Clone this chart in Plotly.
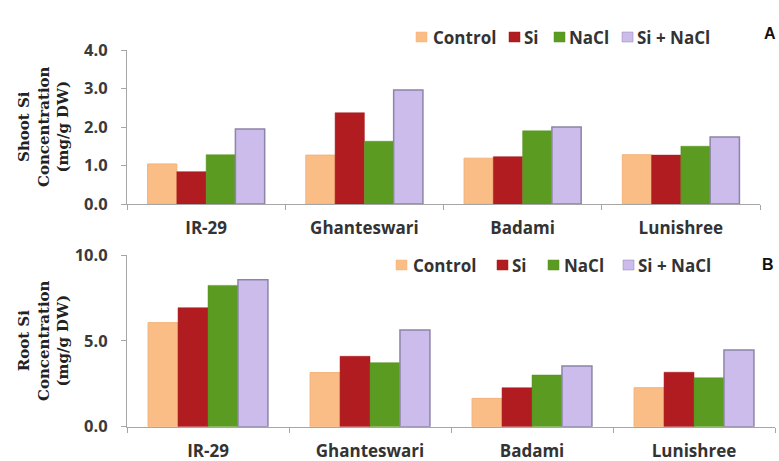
import plotly.graph_objects as go

# Cultivars and treatments
cultivars = ["IR-29", "Ghanteswari", "Badami", "Lunishree"]
treatments = ["Control", "Si", "NaCl", "Si + NaCl"]

# Shoot Si concentration (mg/g DW)
shoot_control = [1.04, 1.27, 1.19, 1.28]
shoot_si = [0.84, 2.37, 1.23, 1.27]
shoot_nacl = [1.28, 1.63, 1.90, 1.50]
shoot_si_nacl = [1.95, 2.96, 2.00, 1.74]

# Root Si concentration (mg/g DW)
root_control = [6.06, 3.15, 1.65, 2.27]
root_si = [6.93, 4.10, 2.27, 3.17]
root_nacl = [8.23, 3.73, 3.01, 2.85]
root_si_nacl = [8.56, 5.63, 3.53, 4.47]

shoot_series = [shoot_control, shoot_si, shoot_nacl, shoot_si_nacl]
root_series = [root_control, root_si, root_nacl, root_si_nacl]

fills = ["#fbbd86", "#b01c20", "#5b9b22", "#cbbcec"]
outlines = ["#f3b27a", "#a8181c", "#55921f", "#8d84a8"]
outline_w = [1, 0.5, 0.5, 1.5]

W, H = 779, 461


def px(x):
    return x / W


def py(y):
    return 1 - y / H


fig = go.Figure()

for i, name in enumerate(treatments):
    fig.add_trace(go.Bar(
        x=cultivars, y=shoot_series[i], name=name,
        marker=dict(color=fills[i], line=dict(color=outlines[i], width=outline_w[i])),
        xaxis="x", yaxis="y", showlegend=False,
    ))
    fig.add_trace(go.Bar(
        x=cultivars, y=root_series[i], name=name,
        marker=dict(color=fills[i], line=dict(color=outlines[i], width=outline_w[i])),
        xaxis="x2", yaxis="y2", showlegend=False,
    ))

axis_grey = "#a6a6a6"
tick_font = dict(family="Open Sans", size=16.5, color="#3a3a3a", weight="bold")
cat_font = dict(family="Open Sans", size=17, color="#333333", weight="bold")

xcommon = dict(
    type="category", showline=True, linecolor=axis_grey, linewidth=1,
    ticks="outside", tickson="boundaries", ticklen=5, tickcolor=axis_grey,
    tickfont=cat_font, showgrid=False, zeroline=False, ticklabelstandoff=9,
    automargin=False,
)
ycommon = dict(
    showline=True, linecolor=axis_grey, linewidth=1, ticks="outside",
    ticklen=5, tickcolor=axis_grey, tickfont=tick_font, tickformat=".1f",
    showgrid=False, zeroline=False, ticklabelstandoff=10, automargin=False,
)

fig.update_layout(
    width=W, height=H,
    margin=dict(l=0, r=0, t=0, b=0, autoexpand=False),
    paper_bgcolor="white", plot_bgcolor="white",
    barmode="group", bargap=0.26, bargroupgap=0,
    xaxis=dict(domain=[px(127), px(760)], anchor="y", **xcommon),
    yaxis=dict(domain=[py(204), py(50)], anchor="x", range=[0, 4], dtick=1, **ycommon),
    xaxis2=dict(domain=[px(127), px(775)], anchor="y2", **xcommon),
    yaxis2=dict(domain=[py(426.7), py(255)], anchor="x2", range=[0, 10], dtick=5, **ycommon),
    font=dict(family="Open Sans"),
)

# Y-axis titles
title_font = dict(family="DejaVu Serif", size=15, color="#222222")
fig.add_annotation(
    text="<b>Shoot Si<br>Concentration<br>(mg/g DW)</b>", textangle=-90,
    x=px(43), y=py(127), xref="paper", yref="paper", showarrow=False,
    xanchor="center", yanchor="middle", font=title_font,
)
fig.add_annotation(
    text="<b>Root Si<br>Concentration<br>(mg/g DW)</b>", textangle=-90,
    x=px(43), y=py(341), xref="paper", yref="paper", showarrow=False,
    xanchor="center", yanchor="middle", font=title_font,
)

# Panel letters
for letter, lx, ly in [("A", 770, 33), ("B", 768, 264)]:
    fig.add_annotation(
        text=f"<b>{letter}</b>", x=px(lx), y=py(ly), xref="paper", yref="paper",
        showarrow=False, xanchor="center", yanchor="middle",
        font=dict(family="Liberation Sans", size=16, color="#111111"),
    )

# Legends drawn as swatch + label rows above each panel
legend_font = dict(family="Open Sans", size=17, color="#333333")
legend_rows = [
    (37, [416, 509, 554, 622], [431, 522, 567, 635]),
    (265, [396, 497, 548, 623], [411, 510, 562, 636]),
]
for cy, sw_x, tx_x in legend_rows:
    for i, name in enumerate(treatments):
        fig.add_shape(
            type="rect", xref="paper", yref="paper",
            x0=px(sw_x[i]), x1=px(sw_x[i] + 11), y0=py(cy + 5), y1=py(cy - 5),
            fillcolor=fills[i], line=dict(color=outlines[i], width=0.5),
        )
        fig.add_annotation(
            text=f"<b>{name}</b>", x=px(tx_x[i]), y=py(cy), xref="paper", yref="paper",
            showarrow=False, xanchor="left", yanchor="middle", font=legend_font,
        )

fig.write_html("out.html")
